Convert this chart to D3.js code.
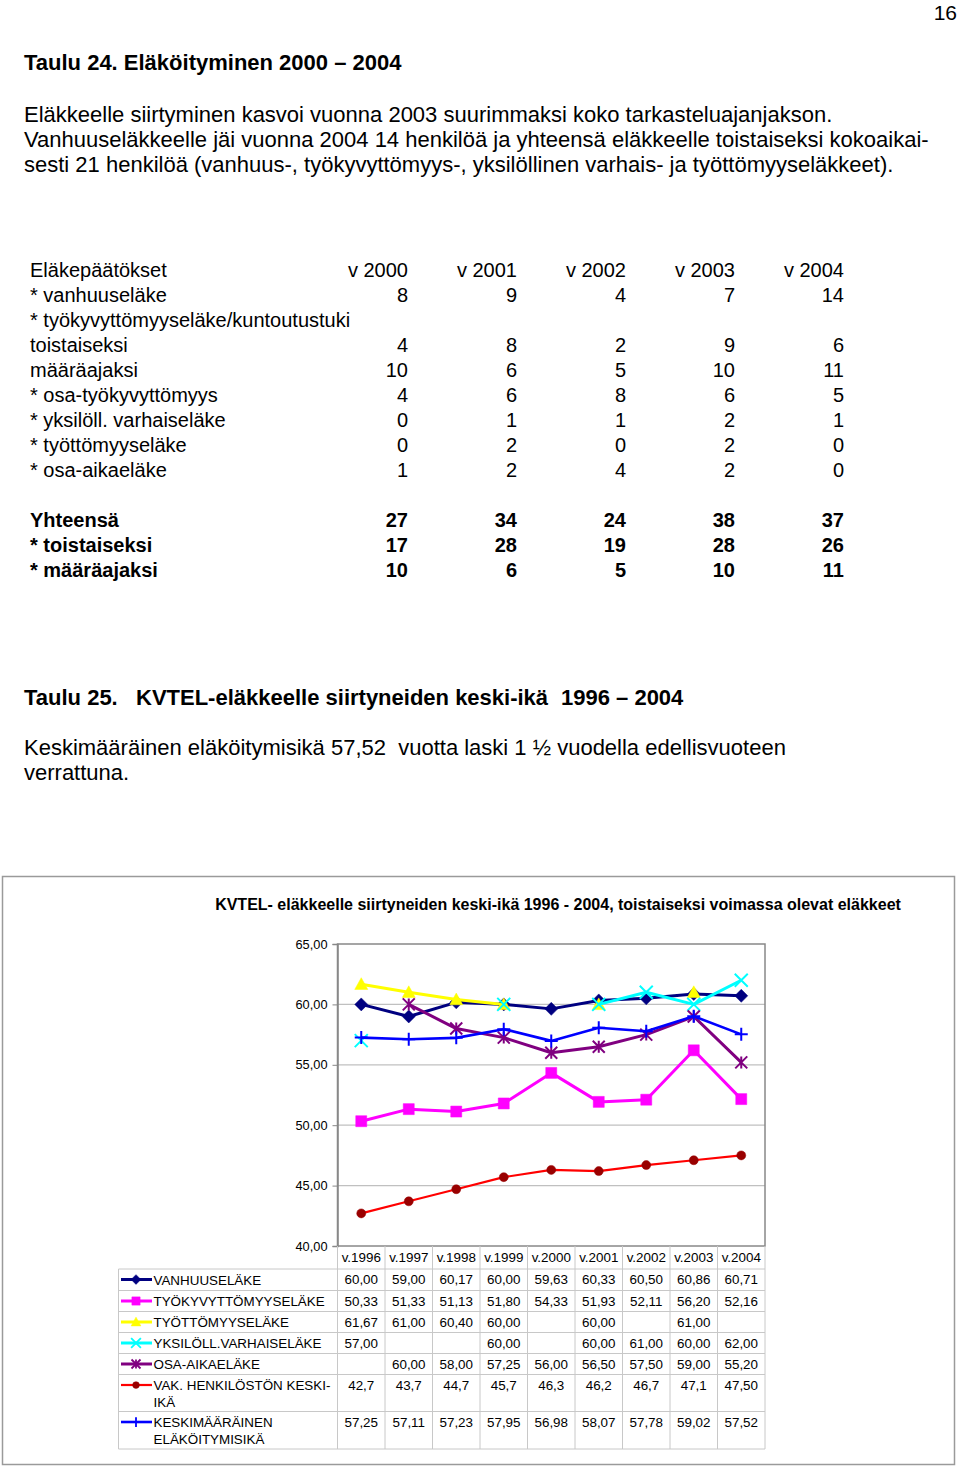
<!DOCTYPE html>
<html><head><meta charset="utf-8">
<script src="https://cdn.jsdelivr.net/npm/d3@7"></script>
<style>
html,body{margin:0;padding:0;background:#fff;}
svg{display:block;font-family:"Liberation Sans",Arial,sans-serif;}
text{white-space:pre;}
</style></head>
<body>
<svg id="page" width="960" height="1467"></svg>
<script>
// ---------- Table 24 data ----------
const t24Header = "Eläkepäätökset";
const t24Years = ["v 2000","v 2001","v 2002","v 2003","v 2004"];
const t24Labels = ["* vanhuuseläke","* työkyvyttömyyseläke/kuntoutustuki","toistaiseksi","määräajaksi","* osa-työkyvyttömyys","* yksilöll. varhaiseläke","* työttömyyseläke","* osa-aikaeläke"];
const t24Values = [[8,9,4,7,14],[],[4,8,2,9,6],[10,6,5,10,11],[4,6,8,6,5],[0,1,1,2,1],[0,2,0,2,0],[1,2,4,2,0]];
const t24TotLabels = ["Yhteensä","* toistaiseksi","* määräajaksi"];
const t24TotValues = [[27,34,24,38,37],[17,28,19,28,26],[10,6,5,10,11]];

// ---------- Chart data ----------
const years = ["v.1996","v.1997","v.1998","v.1999","v.2000","v.2001","v.2002","v.2003","v.2004"];
const yTicks = [40,45,50,55,60,65];
const seriesNames = ["VANHUUSELÄKE","TYÖKYVYTTÖMYYSELÄKE","TYÖTTÖMYYSELÄKE","YKSILÖLL.VARHAISELÄKE","OSA-AIKAELÄKE","VAK. HENKILÖSTÖN KESKI-|IKÄ","KESKIMÄÄRÄINEN|ELÄKÖITYMISIKÄ"];
const vanhuus    = [60.00,59.00,60.17,60.00,59.63,60.33,60.50,60.86,60.71];
const tyokyvyt   = [50.33,51.33,51.13,51.80,54.33,51.93,52.11,56.20,52.16];
const tyottomyys = [61.67,61.00,60.40,60.00,null,60.00,null,61.00,null];
const yksiloll   = [57.00,null,null,60.00,null,60.00,61.00,60.00,62.00];
const osaaika    = [null,60.00,58.00,57.25,56.00,56.50,57.50,59.00,55.20];
const vak        = [42.7,43.7,44.7,45.7,46.3,46.2,46.7,47.1,47.50];
const vakDecimals= [1,1,1,1,1,1,1,1,2];
const keskim     = [57.25,57.11,57.23,57.95,56.98,58.07,57.78,59.02,57.52];

const seriesData = [vanhuus,tyokyvyt,tyottomyys,yksiloll,osaaika,vak,keskim];
const seriesStyle = [
  {color:"#000080", mcolor:"#000080", w:3,   marker:"diamond"},
  {color:"#ff00ff", mcolor:"#ff00ff", w:3,   marker:"square"},
  {color:"#ffff00", mcolor:"#ffff00", w:3,   marker:"triangle"},
  {color:"#00ffff", mcolor:"#00ffff", w:3,   marker:"x"},
  {color:"#800080", mcolor:"#800080", w:3,   marker:"star"},
  {color:"#ff0000", mcolor:"#990000", w:2.2, marker:"circle"},
  {color:"#0000ff", mcolor:"#0000ff", w:2.6, marker:"plus"}
];

const svg = d3.select("#page");
svg.append("rect").attr("width",960).attr("height",1467).attr("fill","#fff");

const F = "#000";
function txt(x,y,s,opts={}){
  return svg.append("text").attr("x",x).attr("y",y).text(s)
    .attr("font-size",opts.size||20).attr("font-weight",opts.bold?"bold":"normal")
    .attr("text-anchor",opts.anchor||"start").attr("fill",opts.fill||F);
}

// page number
txt(957,20,"16",{anchor:"end",size:21});
// heading 24
txt(24,70,"Taulu 24. Eläköityminen 2000 – 2004",{bold:true,size:22});
["Eläkkeelle siirtyminen kasvoi vuonna 2003 suurimmaksi koko tarkasteluajanjakson.",
 "Vanhuuseläkkeelle jäi vuonna 2004 14 henkilöä ja yhteensä eläkkeelle toistaiseksi kokoaikai-",
 "sesti 21 henkilöä (vanhuus-, työkyvyttömyys-, yksilöllinen varhais- ja työttömyyseläkkeet)."]
 .forEach((s,i)=>txt(24,122+25*i,s,{size:22}));

// table 24
const t24ColRight = [408,517,626,735,844];
txt(30,277,t24Header);
t24Years.forEach((y,j)=>txt(t24ColRight[j],277,y,{anchor:"end"}));
t24Labels.forEach((l,i)=>{
  const yy = 302+25*i;
  txt(30,yy,l);
  t24Values[i].forEach((v,j)=>txt(t24ColRight[j],yy,String(v),{anchor:"end"}));
});
t24TotLabels.forEach((l,i)=>{
  const yy = 527+25*i;
  txt(30,yy,l,{bold:true});
  t24TotValues[i].forEach((v,j)=>txt(t24ColRight[j],yy,String(v),{anchor:"end",bold:true}));
});

// heading 25
txt(24,705,"Taulu 25.",{bold:true,size:22});
txt(136,705,"KVTEL-eläkkeelle siirtyneiden keski-ikä",{bold:true,size:22});
txt(561,705,"1996 – 2004",{bold:true,size:22});
txt(24,755,"Keskimääräinen eläköitymisikä 57,52  vuotta laski 1 ½ vuodella edellisvuoteen",{size:22});
txt(24,780,"verrattuna.",{size:22});

// ---------- Chart ----------
svg.append("rect").attr("x",2.5).attr("y",876.5).attr("width",952).attr("height",588)
  .attr("fill","none").attr("stroke","#9a9a9a").attr("stroke-width",1.5);

svg.append("text").attr("x",558).attr("y",910).attr("text-anchor","middle")
  .attr("font-size",16).attr("font-weight","bold").text("KVTEL- eläkkeelle siirtyneiden keski-ikä 1996 - 2004, toistaiseksi voimassa olevat eläkkeet");

const pl = 337.5, pr = 765, pt = 944, pb = 1246;
const x = d3.scaleBand().domain(years).range([pl,pr]).padding(0);
const y = d3.scaleLinear().domain([40,65]).range([pb,pt]);
const cx = i => x(years[i]) + x.bandwidth()/2;

// gridlines
svg.append("g").selectAll("line").data(yTicks.filter(t=>t>40 && t<65)).join("line")
  .attr("x1",pl).attr("x2",pr).attr("y1",d=>y(d)).attr("y2",d=>y(d))
  .attr("stroke","#c0c0c0").attr("stroke-width",1.2);
// plot border
svg.append("rect").attr("x",pl).attr("y",pt).attr("width",pr-pl).attr("height",pb-pt)
  .attr("fill","none").attr("stroke","#888").attr("stroke-width",1.5);
// y axis
const yAxis = d3.axisLeft(y).tickValues(yTicks).tickSize(5).tickPadding(5)
  .tickFormat(d=>d3.format(".2f")(d).replace(".",","));
const ga = svg.append("g").attr("transform",`translate(${pl},0)`).call(yAxis);
ga.select(".domain").attr("stroke","#888").attr("stroke-width",1.5);
ga.selectAll(".tick line").attr("stroke","#888");
ga.selectAll(".tick text").attr("font-size",12.8).attr("font-family","Liberation Sans, Arial, sans-serif").attr("fill","#000");

// marker shapes
function markerPath(type, s){
  const h = s/2;
  switch(type){
    case "diamond": return `M0,${-h}L${h},0L0,${h}L${-h},0Z`;
    case "square": return `M${-h},${-h}H${h}V${h}H${-h}Z`;
    case "triangle": return `M0,${-h}L${h},${h*0.8}L${-h},${h*0.8}Z`;
    case "x": return `M${-h},${-h}L${h},${h}M${-h},${h}L${h},${-h}`;
    case "star": return `M${-h},${-h}L${h},${h}M${-h},${h}L${h},${-h}M0,${-h}V${h}`;
    case "plus": return `M${-h},0H${h}M0,${-h}V${h}`;
    case "circle": return d3.symbol(d3.symbolCircle, Math.PI*h*h)();
  }
}
const filled = t => ["diamond","square","triangle","circle"].includes(t);
const markerSize = {diamond:13,square:11,triangle:13,x:13,star:12,plus:13,circle:9};

const line = d3.line().defined(d=>d.v!=null).x(d=>cx(d.i)).y(d=>y(d.v));
seriesData.forEach((arr,k)=>{
  const st = seriesStyle[k];
  const pts = arr.map((v,i)=>({v,i}));
  const g = svg.append("g");
  g.append("path").attr("d",line(pts)).attr("fill","none").attr("stroke",st.color)
    .attr("stroke-width",st.w).attr("stroke-linejoin","round");
  g.selectAll("path.m").data(pts.filter(d=>d.v!=null)).join("path").attr("class","m")
    .attr("transform",d=>`translate(${cx(d.i)},${y(d.v)})`)
    .attr("d",markerPath(st.marker,markerSize[st.marker]))
    .attr("fill",filled(st.marker)?st.mcolor:"none")
    .attr("stroke",st.mcolor).attr("stroke-width",filled(st.marker)?0.5:2);
});

// ---------- Data table ----------
const rowTops = [1269,1290.5,1311.5,1332.5,1353.5,1374.5,1411.5,1449];
const tl = 118.5, gridC = "#c8c8c8", TS = 13.4;
const tg = svg.append("g");
years.forEach((yr,i)=>{
  tg.append("line").attr("x1",x(yr)).attr("x2",x(yr)).attr("y1",pb).attr("y2",rowTops[rowTops.length-1]).attr("stroke",gridC);
});
tg.append("line").attr("x1",pr).attr("x2",pr).attr("y1",pb).attr("y2",rowTops[rowTops.length-1]).attr("stroke",gridC);
tg.append("line").attr("x1",tl).attr("x2",tl).attr("y1",rowTops[0]).attr("y2",rowTops[rowTops.length-1]).attr("stroke",gridC);
rowTops.forEach(r=>{
  tg.append("line").attr("x1",tl).attr("x2",pr).attr("y1",r).attr("y2",r).attr("stroke",gridC);
});
years.forEach((yr,i)=>{
  tg.append("text").attr("x",cx(i)).attr("y",1262).attr("text-anchor","middle").attr("font-size",TS).text(yr);
});
const fmt = (v,dec)=> v==null ? "" : d3.format("."+dec+"f")(v).replace(".",",");
seriesData.forEach((arr,k)=>{
  const top = rowTops[k];
  const st = seriesStyle[k];
  const lg = tg.append("g").attr("transform",`translate(0,${top+10.5})`);
  lg.append("line").attr("x1",121).attr("x2",152).attr("y1",0).attr("y2",0).attr("stroke",st.color).attr("stroke-width",st.w);
  const ms = markerSize[st.marker]*0.75;
  lg.append("path").attr("transform","translate(136,0)").attr("d",markerPath(st.marker,ms))
    .attr("fill",filled(st.marker)?st.mcolor:"none").attr("stroke",st.mcolor).attr("stroke-width",filled(st.marker)?0.5:1.8);
  seriesNames[k].split("|").forEach((s,j)=>{
    tg.append("text").attr("x",153.5).attr("y",top+15.5+17*j).attr("font-size",TS).text(s);
  });
  arr.forEach((v,i)=>{
    const dec = k===5 ? vakDecimals[i] : 2;
    tg.append("text").attr("x",cx(i)).attr("y",top+15).attr("text-anchor","middle").attr("font-size",TS).text(fmt(v,dec));
  });
});
</script>
</body></html>
